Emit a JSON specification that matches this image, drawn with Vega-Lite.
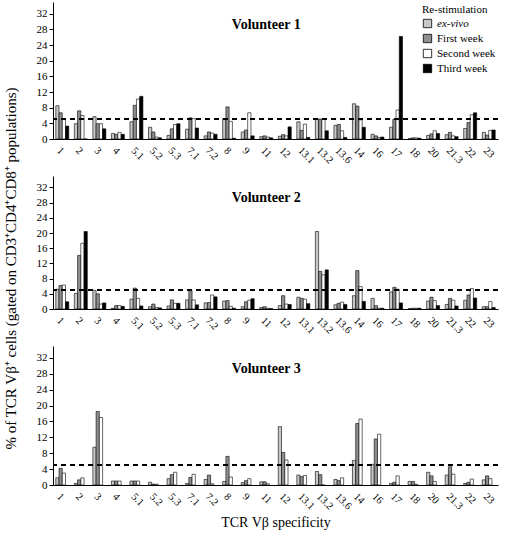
{
  "$schema": "https://vega.github.io/schema/vega-lite/v6.json",
  "padding": {"left": 2, "top": 2, "right": 2, "bottom": 2},
  "bounds": "flush",
  "spacing": 37,
  "config": {
    "font": "Liberation Serif",
    "view": {"stroke": null},
    "axis": {"grid": false, "domainColor": "black", "tickColor": "black", "labelColor": "black", "titleColor": "black", "labelFont": "Liberation Serif", "titleFont": "Liberation Serif", "titleFontWeight": "normal"},
    "axisY": {"labelOverlap": false, "labelFontSize": 11, "tickSize": 4},
    "legend": {"labelFont": "Liberation Serif", "titleFont": "Liberation Serif"},
    "text": {"font": "Liberation Serif", "color": "black"}
  },
  "resolve": {"scale": {"color": "independent"}, "legend": {"color": "independent"}},
  "datasets": {
    "v1": [
      {"t":"1","s":"ex-vivo","v":8.5},{"t":"1","s":"First week","v":6.7},{"t":"1","s":"Second week","v":5.0},{"t":"1","s":"Third week","v":3.3},
      {"t":"2","s":"ex-vivo","v":3.9},{"t":"2","s":"First week","v":7.2},{"t":"2","s":"Second week","v":6.0},{"t":"2","s":"Third week","v":0},
      {"t":"3","s":"ex-vivo","v":5.7},{"t":"3","s":"First week","v":3.9},{"t":"3","s":"Second week","v":3.9},{"t":"3","s":"Third week","v":2.6},
      {"t":"4","s":"ex-vivo","v":1.4},{"t":"4","s":"First week","v":1.2},{"t":"4","s":"Second week","v":1.7},{"t":"4","s":"Third week","v":1.2},
      {"t":"5.1","s":"ex-vivo","v":4.4},{"t":"5.1","s":"First week","v":8.6},{"t":"5.1","s":"Second week","v":10.2},{"t":"5.1","s":"Third week","v":10.9},
      {"t":"5.2","s":"ex-vivo","v":3.0},{"t":"5.2","s":"First week","v":1.8},{"t":"5.2","s":"Second week","v":0.5},{"t":"5.2","s":"Third week","v":0.3},
      {"t":"5.3","s":"ex-vivo","v":0.9},{"t":"5.3","s":"First week","v":2.6},{"t":"5.3","s":"Second week","v":3.7},{"t":"5.3","s":"Third week","v":3.9},
      {"t":"7.1","s":"ex-vivo","v":2.5},{"t":"7.1","s":"First week","v":5.4},{"t":"7.1","s":"Second week","v":5.2},{"t":"7.1","s":"Third week","v":2.8},
      {"t":"7.2","s":"ex-vivo","v":0.8},{"t":"7.2","s":"First week","v":1.8},{"t":"7.2","s":"Second week","v":1.5},{"t":"7.2","s":"Third week","v":1.2},
      {"t":"8","s":"ex-vivo","v":5.2},{"t":"8","s":"First week","v":8.2},{"t":"8","s":"Second week","v":4.5},{"t":"8","s":"Third week","v":0.2},
      {"t":"9","s":"ex-vivo","v":1.8},{"t":"9","s":"First week","v":2.3},{"t":"9","s":"Second week","v":6.7},{"t":"9","s":"Third week","v":0.8},
      {"t":"11","s":"ex-vivo","v":0.6},{"t":"11","s":"First week","v":0.8},{"t":"11","s":"Second week","v":0.5},{"t":"11","s":"Third week","v":0.3},
      {"t":"12","s":"ex-vivo","v":0.7},{"t":"12","s":"First week","v":1.1},{"t":"12","s":"Second week","v":0.8},{"t":"12","s":"Third week","v":3.1},
      {"t":"13.1","s":"ex-vivo","v":4.4},{"t":"13.1","s":"First week","v":2.2},{"t":"13.1","s":"Second week","v":3.8},{"t":"13.1","s":"Third week","v":0.4},
      {"t":"13.2","s":"ex-vivo","v":5.1},{"t":"13.2","s":"First week","v":5.1},{"t":"13.2","s":"Second week","v":5.1},{"t":"13.2","s":"Third week","v":2.1},
      {"t":"13.6","s":"ex-vivo","v":3.5},{"t":"13.6","s":"First week","v":3.7},{"t":"13.6","s":"Second week","v":2.1},{"t":"13.6","s":"Third week","v":0.4},
      {"t":"14","s":"ex-vivo","v":9.0},{"t":"14","s":"First week","v":8.4},{"t":"14","s":"Second week","v":4.9},{"t":"14","s":"Third week","v":3.0},
      {"t":"16","s":"ex-vivo","v":1.2},{"t":"16","s":"First week","v":0.8},{"t":"16","s":"Second week","v":0.4},{"t":"16","s":"Third week","v":0.5},
      {"t":"17","s":"ex-vivo","v":3.0},{"t":"17","s":"First week","v":5.0},{"t":"17","s":"Second week","v":7.4},{"t":"17","s":"Third week","v":26.2},
      {"t":"18","s":"ex-vivo","v":0.1},{"t":"18","s":"First week","v":0.3},{"t":"18","s":"Second week","v":0.3},{"t":"18","s":"Third week","v":0.2},
      {"t":"20","s":"ex-vivo","v":0.9},{"t":"20","s":"First week","v":1.3},{"t":"20","s":"Second week","v":2.1},{"t":"20","s":"Third week","v":1.4},
      {"t":"21.3","s":"ex-vivo","v":1.1},{"t":"21.3","s":"First week","v":1.7},{"t":"21.3","s":"Second week","v":0.8},{"t":"21.3","s":"Third week","v":0.6},
      {"t":"22","s":"ex-vivo","v":2.7},{"t":"22","s":"First week","v":4.2},{"t":"22","s":"Second week","v":6.2},{"t":"22","s":"Third week","v":6.7},
      {"t":"23","s":"ex-vivo","v":1.7},{"t":"23","s":"First week","v":1.0},{"t":"23","s":"Second week","v":2.2},{"t":"23","s":"Third week","v":2.3}
    ],
    "v2": [
      {"t":"1","s":"ex-vivo","v":5.2},{"t":"1","s":"First week","v":6.2},{"t":"1","s":"Second week","v":6.3},{"t":"1","s":"Third week","v":1.9},
      {"t":"2","s":"ex-vivo","v":4.1},{"t":"2","s":"First week","v":14.1},{"t":"2","s":"Second week","v":17.3},{"t":"2","s":"Third week","v":20.4},
      {"t":"3","s":"ex-vivo","v":4.9},{"t":"3","s":"First week","v":4.0},{"t":"3","s":"Second week","v":1.3},{"t":"3","s":"Third week","v":1.6},
      {"t":"4","s":"ex-vivo","v":0.2},{"t":"4","s":"First week","v":0.9},{"t":"4","s":"Second week","v":0.9},{"t":"4","s":"Third week","v":0.7},
      {"t":"5.1","s":"ex-vivo","v":2.6},{"t":"5.1","s":"First week","v":5.5},{"t":"5.1","s":"Second week","v":2.8},{"t":"5.1","s":"Third week","v":0.8},
      {"t":"5.2","s":"ex-vivo","v":0.6},{"t":"5.2","s":"First week","v":1.3},{"t":"5.2","s":"Second week","v":0.4},{"t":"5.2","s":"Third week","v":0.3},
      {"t":"5.3","s":"ex-vivo","v":0.8},{"t":"5.3","s":"First week","v":2.4},{"t":"5.3","s":"Second week","v":1.5},{"t":"5.3","s":"Third week","v":1.5},
      {"t":"7.1","s":"ex-vivo","v":2.4},{"t":"7.1","s":"First week","v":4.9},{"t":"7.1","s":"Second week","v":2.4},{"t":"7.1","s":"Third week","v":1.1},
      {"t":"7.2","s":"ex-vivo","v":1.6},{"t":"7.2","s":"First week","v":1.7},{"t":"7.2","s":"Second week","v":3.7},{"t":"7.2","s":"Third week","v":3.2},
      {"t":"8","s":"ex-vivo","v":2.1},{"t":"8","s":"First week","v":2.2},{"t":"8","s":"Second week","v":0.7},{"t":"8","s":"Third week","v":0.2},
      {"t":"9","s":"ex-vivo","v":0.6},{"t":"9","s":"First week","v":1.9},{"t":"9","s":"Second week","v":2.3},{"t":"9","s":"Third week","v":2.7},
      {"t":"11","s":"ex-vivo","v":0.4},{"t":"11","s":"First week","v":0.6},{"t":"11","s":"Second week","v":0.2},{"t":"11","s":"Third week","v":0.1},
      {"t":"12","s":"ex-vivo","v":0.9},{"t":"12","s":"First week","v":3.5},{"t":"12","s":"Second week","v":1.3},{"t":"12","s":"Third week","v":1.2},
      {"t":"13.1","s":"ex-vivo","v":3.1},{"t":"13.1","s":"First week","v":2.8},{"t":"13.1","s":"Second week","v":2.6},{"t":"13.1","s":"Third week","v":1.4},
      {"t":"13.2","s":"ex-vivo","v":20.4},{"t":"13.2","s":"First week","v":9.9},{"t":"13.2","s":"Second week","v":9.0},{"t":"13.2","s":"Third week","v":10.3},
      {"t":"13.6","s":"ex-vivo","v":1.1},{"t":"13.6","s":"First week","v":1.5},{"t":"13.6","s":"Second week","v":1.8},{"t":"13.6","s":"Third week","v":1.2},
      {"t":"14","s":"ex-vivo","v":3.5},{"t":"14","s":"First week","v":10.1},{"t":"14","s":"Second week","v":5.9},{"t":"14","s":"Third week","v":2.0},
      {"t":"16","s":"ex-vivo","v":2.8},{"t":"16","s":"First week","v":0.9},{"t":"16","s":"Second week","v":0.2},{"t":"16","s":"Third week","v":0.2},
      {"t":"17","s":"ex-vivo","v":4.5},{"t":"17","s":"First week","v":5.7},{"t":"17","s":"Second week","v":5.2},{"t":"17","s":"Third week","v":1.6},
      {"t":"18","s":"ex-vivo","v":0.1},{"t":"18","s":"First week","v":0.2},{"t":"18","s":"Second week","v":0.2},{"t":"18","s":"Third week","v":0.2},
      {"t":"20","s":"ex-vivo","v":2.1},{"t":"20","s":"First week","v":3.1},{"t":"20","s":"Second week","v":2.2},{"t":"20","s":"Third week","v":0.9},
      {"t":"21.3","s":"ex-vivo","v":1.2},{"t":"21.3","s":"First week","v":2.8},{"t":"21.3","s":"Second week","v":2.3},{"t":"21.3","s":"Third week","v":0.8},
      {"t":"22","s":"ex-vivo","v":2.3},{"t":"22","s":"First week","v":3.7},{"t":"22","s":"Second week","v":5.4},{"t":"22","s":"Third week","v":2.9},
      {"t":"23","s":"ex-vivo","v":0.6},{"t":"23","s":"First week","v":0.6},{"t":"23","s":"Second week","v":2.0},{"t":"23","s":"Third week","v":0.4}
    ],
    "v3": [
      {"t":"1","s":"ex-vivo","v":1.8},{"t":"1","s":"First week","v":4.2},{"t":"1","s":"Second week","v":3.0},
      {"t":"2","s":"ex-vivo","v":0.4},{"t":"2","s":"First week","v":1.3},{"t":"2","s":"Second week","v":1.8},
      {"t":"3","s":"ex-vivo","v":9.5},{"t":"3","s":"First week","v":18.5},{"t":"3","s":"Second week","v":17.0},
      {"t":"4","s":"ex-vivo","v":1.0},{"t":"4","s":"First week","v":1.0},{"t":"4","s":"Second week","v":1.0},
      {"t":"5.1","s":"ex-vivo","v":1.0},{"t":"5.1","s":"First week","v":1.0},{"t":"5.1","s":"Second week","v":1.0},
      {"t":"5.2","s":"ex-vivo","v":0.7},{"t":"5.2","s":"First week","v":0.2},{"t":"5.2","s":"Second week","v":0.2},
      {"t":"5.3","s":"ex-vivo","v":1.6},{"t":"5.3","s":"First week","v":2.6},{"t":"5.3","s":"Second week","v":3.2},
      {"t":"7.1","s":"ex-vivo","v":0.4},{"t":"7.1","s":"First week","v":1.9},{"t":"7.1","s":"Second week","v":2.7},
      {"t":"7.2","s":"ex-vivo","v":1.4},{"t":"7.2","s":"First week","v":2.5},{"t":"7.2","s":"Second week","v":0.3},
      {"t":"8","s":"ex-vivo","v":0.9},{"t":"8","s":"First week","v":7.2},{"t":"8","s":"Second week","v":2.0},
      {"t":"9","s":"ex-vivo","v":0.6},{"t":"9","s":"First week","v":1.1},{"t":"9","s":"Second week","v":1.6},
      {"t":"11","s":"ex-vivo","v":0.8},{"t":"11","s":"First week","v":0.8},{"t":"11","s":"Second week","v":0.3},
      {"t":"12","s":"ex-vivo","v":14.7},{"t":"12","s":"First week","v":8.2},{"t":"12","s":"Second week","v":6.3},
      {"t":"13.1","s":"ex-vivo","v":2.5},{"t":"13.1","s":"First week","v":2.1},{"t":"13.1","s":"Second week","v":2.4},
      {"t":"13.2","s":"ex-vivo","v":3.4},{"t":"13.2","s":"First week","v":2.6},{"t":"13.2","s":"Second week","v":0},
      {"t":"13.6","s":"ex-vivo","v":1.4},{"t":"13.6","s":"First week","v":1.1},{"t":"13.6","s":"Second week","v":1.8},
      {"t":"14","s":"ex-vivo","v":6.2},{"t":"14","s":"First week","v":15.5},{"t":"14","s":"Second week","v":16.6},
      {"t":"16","s":"ex-vivo","v":5.2},{"t":"16","s":"First week","v":11.6},{"t":"16","s":"Second week","v":12.8},
      {"t":"17","s":"ex-vivo","v":0.4},{"t":"17","s":"First week","v":0.7},{"t":"17","s":"Second week","v":2.3},
      {"t":"18","s":"ex-vivo","v":0.9},{"t":"18","s":"First week","v":0.9},{"t":"18","s":"Second week","v":0.2},
      {"t":"20","s":"ex-vivo","v":3.2},{"t":"20","s":"First week","v":2.3},{"t":"20","s":"Second week","v":0.9},
      {"t":"21.3","s":"ex-vivo","v":2.5},{"t":"21.3","s":"First week","v":4.6},{"t":"21.3","s":"Second week","v":2.7},
      {"t":"22","s":"ex-vivo","v":0.4},{"t":"22","s":"First week","v":0.7},{"t":"22","s":"Second week","v":1.5},
      {"t":"23","s":"ex-vivo","v":1.3},{"t":"23","s":"First week","v":2.3},{"t":"23","s":"Second week","v":1.6}
    ],
    "lbl1": [{"name": "Volunteer 1"}],
    "lbl2": [{"name": "Volunteer 2"}],
    "lbl3": [{"name": "Volunteer 3"}]
  },
  "vconcat": [
    {
      "width": 445, "height": 137,
      "data": {"name": "v1"},
      "layer": [
        {
          "mark": {"type": "bar", "stroke": "black", "strokeWidth": 0.6},
          "encoding": {
            "x": {"field": "t", "type": "nominal", "sort": ["1","2","3","4","5.1","5.2","5.3","7.1","7.2","8","9","11","12","13.1","13.2","13.6","14","16","17","18","20","21.3","22","23"], "scale": {"paddingInner": 0.3, "paddingOuter": 0.15}, "axis": {"title": null, "labelAngle": 45, "ticks": false, "labelFontSize": 10.5, "labelPadding": 6}},
            "xOffset": {"field": "s", "type": "nominal", "sort": ["ex-vivo","First week","Second week","Third week"]},
            "y": {"field": "v", "type": "quantitative", "scale": {"domain": [0, 32]}, "axis": {"title": null, "values": [0,4,8,12,16,20,24,28,32], "labelOverlap": false, "tickCount": 9}},
            "color": {"field": "s", "type": "nominal", "scale": {"domain": ["ex-vivo","First week","Second week","Third week"], "range": ["#c8c8c8","#8f8f8f","#ffffff","#000000"]},
              "legend": {"title": "Re-stimulation", "orient": "top-right", "offset": 2, "symbolType": "square", "symbolStrokeColor": "black", "symbolStrokeWidth": 0.8, "symbolSize": 70, "titleFontSize": 11, "titleFontWeight": "normal", "labelFontSize": 11, "rowPadding": 2, "titlePadding": 3,
                "encode": {"labels": {"update": {"fontStyle": {"signal": "datum.label == 'ex-vivo' ? 'italic' : 'normal'"}}}}}}
          }
        },
        {"mark": {"type": "rule", "strokeDash": [5, 4], "color": "black", "strokeWidth": 1}, "encoding": {"y": {"datum": 5, "axis": {"title": null, "values": [0,4,8,12,16,20,24,28,32], "labelOverlap": false, "tickCount": 9}}}},
        {"data": {"name": "lbl1"}, "mark": {"type": "text", "fontSize": 14, "fontWeight": "bold", "baseline": "middle", "align": "center", "color": "black"}, "encoding": {"text": {"field": "name"}, "x": {"datum": "11"}, "y": {"datum": 29.2, "axis": {"title": null, "values": [0,4,8,12,16,20,24,28,32], "labelOverlap": false, "tickCount": 9}}}}
      ]
    },
    {
      "width": 445, "height": 133,
      "data": {"name": "v2"},
      "layer": [
        {
          "mark": {"type": "bar", "stroke": "black", "strokeWidth": 0.6},
          "encoding": {
            "x": {"field": "t", "type": "nominal", "sort": ["1","2","3","4","5.1","5.2","5.3","7.1","7.2","8","9","11","12","13.1","13.2","13.6","14","16","17","18","20","21.3","22","23"], "scale": {"paddingInner": 0.3, "paddingOuter": 0.15}, "axis": {"title": null, "labelAngle": 45, "ticks": false, "labelFontSize": 10.5, "labelPadding": 6}},
            "xOffset": {"field": "s", "type": "nominal", "sort": ["ex-vivo","First week","Second week","Third week"]},
            "y": {"field": "v", "type": "quantitative", "scale": {"domain": [0, 32]}, "axis": {"title": "% of TCR Vβ⁺ cells (gated on CD3⁺CD4⁺CD8⁺ populations)", "titleFontSize": 15, "titlePadding": 18, "titleY": 92, "values": [0,4,8,12,16,20,24,28,32], "labelOverlap": false, "tickCount": 9}},
            "color": {"field": "s", "type": "nominal", "scale": {"domain": ["ex-vivo","First week","Second week","Third week"], "range": ["#c8c8c8","#8f8f8f","#ffffff","#000000"]}, "legend": null}
          }
        },
        {"mark": {"type": "rule", "strokeDash": [5, 4], "color": "black", "strokeWidth": 1}, "encoding": {"y": {"datum": 5, "axis": {"title": "% of TCR Vβ⁺ cells (gated on CD3⁺CD4⁺CD8⁺ populations)", "titleFontSize": 15, "titlePadding": 18, "titleY": 92, "values": [0,4,8,12,16,20,24,28,32], "labelOverlap": false, "tickCount": 9}}}},
        {"data": {"name": "lbl2"}, "mark": {"type": "text", "fontSize": 14, "fontWeight": "bold", "baseline": "middle", "align": "center", "color": "black"}, "encoding": {"text": {"field": "name"}, "x": {"datum": "11"}, "y": {"datum": 29.2, "axis": {"title": "% of TCR Vβ⁺ cells (gated on CD3⁺CD4⁺CD8⁺ populations)", "titleFontSize": 15, "titlePadding": 18, "titleY": 92, "values": [0,4,8,12,16,20,24,28,32], "labelOverlap": false, "tickCount": 9}}}}
      ]
    },
    {
      "width": 445, "height": 139,
      "data": {"name": "v3"},
      "layer": [
        {
          "mark": {"type": "bar", "stroke": "black", "strokeWidth": 0.6},
          "encoding": {
            "x": {"field": "t", "type": "nominal", "sort": ["1","2","3","4","5.1","5.2","5.3","7.1","7.2","8","9","11","12","13.1","13.2","13.6","14","16","17","18","20","21.3","22","23"], "scale": {"paddingInner": 0.3, "paddingOuter": 0.15}, "axis": {"title": "TCR Vβ specificity", "titleFontSize": 14, "titlePadding": 4, "labelAngle": 45, "ticks": false, "labelFontSize": 10.5, "labelPadding": 6}},
            "xOffset": {"field": "s", "type": "nominal", "sort": ["ex-vivo","First week","Second week"]},
            "y": {"field": "v", "type": "quantitative", "scale": {"domain": [0, 32]}, "axis": {"title": null, "values": [0,4,8,12,16,20,24,28,32], "labelOverlap": false, "tickCount": 9}},
            "color": {"field": "s", "type": "nominal", "scale": {"domain": ["ex-vivo","First week","Second week","Third week"], "range": ["#c8c8c8","#8f8f8f","#ffffff","#000000"]}, "legend": null}
          }
        },
        {"mark": {"type": "rule", "strokeDash": [5, 4], "color": "black", "strokeWidth": 1}, "encoding": {"y": {"datum": 5, "axis": {"title": null, "values": [0,4,8,12,16,20,24,28,32], "labelOverlap": false, "tickCount": 9}}}},
        {"data": {"name": "lbl3"}, "mark": {"type": "text", "fontSize": 14, "fontWeight": "bold", "baseline": "middle", "align": "center", "color": "black"}, "encoding": {"text": {"field": "name"}, "x": {"datum": "11"}, "y": {"datum": 29.2, "axis": {"title": null, "values": [0,4,8,12,16,20,24,28,32], "labelOverlap": false, "tickCount": 9}}}}
      ]
    }
  ]
}
